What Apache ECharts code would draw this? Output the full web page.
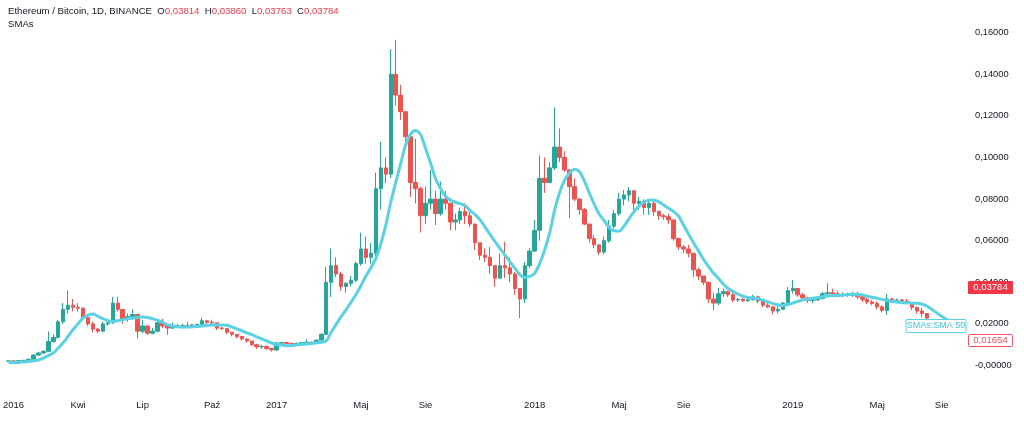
<!DOCTYPE html>
<html><head><meta charset="utf-8">
<script src="https://cdn.jsdelivr.net/npm/echarts@6/dist/echarts.min.js"></script>
<style>html,body{margin:0;padding:0;background:#fff;}#c{width:1024px;height:421px;}</style>
</head><body><div id="c"></div>
<script>
// ---- data (weekly aggregation of ETH/BTC) ----
const startDate = '2015-12-19';
const weekCount = 193;
const openV = [0.0021,0.0022,0.0021,0.0023,0.0025,0.0030,0.0050,0.0060,0.0068,0.0115,
0.0135,0.0210,0.0270,0.0290,0.0280,0.0275,0.0230,0.0200,0.0175,0.0165,
0.0200,0.0205,0.0300,0.0270,0.0225,0.0235,0.0245,0.0165,0.0190,0.0155,
0.0165,0.0205,0.0190,0.0180,0.0190,0.0188,0.0192,0.0190,0.0195,0.0198,
0.0215,0.0208,0.0205,0.0180,0.0178,0.0160,0.0150,0.0140,0.0128,0.0118,
0.0100,0.0090,0.0092,0.0082,0.0075,0.0108,0.0110,0.0106,0.0104,0.0106,
0.0110,0.0112,0.0108,0.0122,0.0150,0.0400,0.0480,0.0440,0.0380,0.0395,
0.0410,0.0490,0.0560,0.0520,0.0540,0.0850,0.0950,0.0920,0.1400,0.1300,
0.1220,0.1100,0.0880,0.0850,0.0720,0.0780,0.0800,0.0730,0.0800,0.0780,
0.0690,0.0700,0.0740,0.0720,0.0680,0.0590,0.0530,0.0520,0.0480,0.0420,
0.0480,0.0470,0.0440,0.0370,0.0320,0.0480,0.0550,0.0650,0.0900,0.0880,
0.0950,0.1050,0.1000,0.0940,0.0860,0.0800,0.0750,0.0680,0.0610,0.0580,
0.0545,0.0600,0.0670,0.0730,0.0800,0.0820,0.0840,0.0780,0.0790,0.0760,
0.0780,0.0740,0.0720,0.0715,0.0700,0.0610,0.0570,0.0560,0.0540,0.0460,
0.0430,0.0400,0.0320,0.0300,0.0345,0.0355,0.0340,0.0315,0.0318,0.0312,
0.0316,0.0330,0.0310,0.0290,0.0282,0.0262,0.0270,0.0300,0.0360,0.0370,
0.0340,0.0325,0.0312,0.0316,0.0322,0.0345,0.0350,0.0345,0.0340,0.0342,
0.0338,0.0345,0.0330,0.0318,0.0305,0.0298,0.0282,0.0265,0.0320,0.0312,
0.0315,0.0310,0.0300,0.0280,0.0262,0.0250];
const closeV = [0.0022,0.0021,0.0023,0.0025,0.0030,0.0050,0.0060,0.0068,0.0115,0.0135,
0.0210,0.0270,0.0290,0.0280,0.0275,0.0230,0.0200,0.0175,0.0165,0.0200,
0.0205,0.0300,0.0270,0.0225,0.0235,0.0245,0.0165,0.0190,0.0155,0.0165,
0.0205,0.0190,0.0180,0.0190,0.0188,0.0192,0.0190,0.0195,0.0198,0.0215,
0.0208,0.0205,0.0180,0.0178,0.0160,0.0150,0.0140,0.0128,0.0118,0.0100,
0.0090,0.0092,0.0082,0.0075,0.0108,0.0110,0.0106,0.0104,0.0106,0.0110,
0.0112,0.0108,0.0122,0.0150,0.0400,0.0480,0.0440,0.0380,0.0395,0.0410,
0.0490,0.0560,0.0520,0.0540,0.0850,0.0950,0.0920,0.1400,0.1300,0.1220,
0.1100,0.0880,0.0850,0.0720,0.0780,0.0800,0.0730,0.0800,0.0780,0.0690,
0.0700,0.0740,0.0720,0.0680,0.0590,0.0530,0.0520,0.0480,0.0420,0.0480,
0.0470,0.0440,0.0370,0.0320,0.0480,0.0550,0.0650,0.0900,0.0880,0.0950,
0.1050,0.1000,0.0940,0.0860,0.0800,0.0750,0.0680,0.0610,0.0580,0.0545,
0.0600,0.0670,0.0730,0.0800,0.0820,0.0840,0.0780,0.0790,0.0760,0.0780,
0.0740,0.0720,0.0715,0.0700,0.0610,0.0570,0.0560,0.0540,0.0460,0.0430,
0.0400,0.0320,0.0300,0.0345,0.0355,0.0340,0.0315,0.0318,0.0312,0.0316,
0.0330,0.0310,0.0290,0.0282,0.0262,0.0270,0.0300,0.0360,0.0370,0.0340,
0.0325,0.0312,0.0316,0.0322,0.0345,0.0350,0.0345,0.0340,0.0342,0.0338,
0.0345,0.0330,0.0318,0.0305,0.0298,0.0282,0.0265,0.0320,0.0312,0.0315,
0.0310,0.0300,0.0280,0.0262,0.0250,0.0228];
const lowV = [0.0020,0.0020,0.0020,0.0022,0.0024,0.0029,0.0048,0.0057,0.0066,0.0110,
0.0130,0.0200,0.0250,0.0260,0.0260,0.0220,0.0190,0.0160,0.0155,0.0160,
0.0190,0.0200,0.0260,0.0200,0.0210,0.0220,0.0130,0.0155,0.0147,0.0150,
0.0160,0.0180,0.0147,0.0175,0.0180,0.0180,0.0180,0.0180,0.0180,0.0190,
0.0200,0.0200,0.0170,0.0170,0.0150,0.0140,0.0130,0.0120,0.0110,0.0095,
0.0080,0.0080,0.0075,0.0066,0.0070,0.0103,0.0103,0.0100,0.0100,0.0103,
0.0105,0.0105,0.0106,0.0120,0.0148,0.0330,0.0425,0.0360,0.0350,0.0380,
0.0400,0.0480,0.0490,0.0490,0.0520,0.0750,0.0877,0.0900,0.1250,0.1180,
0.1050,0.0810,0.0780,0.0640,0.0680,0.0750,0.0675,0.0720,0.0750,0.0650,
0.0650,0.0680,0.0680,0.0666,0.0555,0.0507,0.0497,0.0440,0.0379,0.0420,
0.0420,0.0400,0.0340,0.0228,0.0300,0.0468,0.0545,0.0600,0.0830,0.0880,
0.0940,0.0978,0.0930,0.0708,0.0790,0.0723,0.0675,0.0590,0.0564,0.0530,
0.0535,0.0590,0.0660,0.0720,0.0770,0.0790,0.0748,0.0748,0.0724,0.0724,
0.0720,0.0700,0.0700,0.0680,0.0600,0.0555,0.0540,0.0520,0.0425,0.0410,
0.0387,0.0300,0.0267,0.0290,0.0330,0.0330,0.0305,0.0305,0.0305,0.0305,
0.0312,0.0300,0.0280,0.0276,0.0246,0.0250,0.0270,0.0290,0.0345,0.0330,
0.0315,0.0300,0.0300,0.0310,0.0318,0.0330,0.0330,0.0330,0.0328,0.0330,
0.0330,0.0320,0.0305,0.0295,0.0290,0.0270,0.0255,0.0243,0.0300,0.0300,
0.0300,0.0295,0.0267,0.0250,0.0233,0.0220];
const highV = [0.0023,0.0023,0.0024,0.0026,0.0032,0.0055,0.0066,0.0072,0.0163,0.0150,
0.0220,0.0300,0.0360,0.0320,0.0300,0.0280,0.0240,0.0210,0.0180,0.0210,
0.0210,0.0330,0.0330,0.0270,0.0250,0.0270,0.0250,0.0220,0.0190,0.0180,
0.0220,0.0224,0.0200,0.0206,0.0200,0.0200,0.0210,0.0200,0.0200,0.0230,
0.0220,0.0220,0.0205,0.0185,0.0180,0.0160,0.0150,0.0140,0.0128,0.0118,
0.0105,0.0099,0.0095,0.0085,0.0114,0.0114,0.0112,0.0110,0.0110,0.0113,
0.0126,0.0115,0.0125,0.0156,0.0475,0.0563,0.0520,0.0450,0.0400,0.0430,
0.0500,0.0639,0.0620,0.0590,0.0927,0.1076,0.1000,0.1520,0.1565,0.1350,
0.1200,0.1100,0.1090,0.0860,0.0860,0.0940,0.0840,0.0884,0.0840,0.0780,
0.0730,0.0760,0.0780,0.0740,0.0680,0.0590,0.0564,0.0570,0.0480,0.0540,
0.0595,0.0520,0.0450,0.0370,0.0497,0.0564,0.0700,0.1010,0.1000,0.0978,
0.1240,0.1140,0.1030,0.0945,0.0900,0.0805,0.0757,0.0680,0.0627,0.0580,
0.0620,0.0700,0.0748,0.0830,0.0844,0.0857,0.0840,0.0810,0.0800,0.0796,
0.0796,0.0745,0.0730,0.0730,0.0700,0.0615,0.0580,0.0580,0.0540,0.0470,
0.0430,0.0400,0.0350,0.0373,0.0370,0.0360,0.0350,0.0325,0.0325,0.0325,
0.0340,0.0335,0.0315,0.0300,0.0285,0.0285,0.0305,0.0377,0.0411,0.0370,
0.0350,0.0330,0.0325,0.0330,0.0353,0.0395,0.0370,0.0360,0.0352,0.0350,
0.0355,0.0355,0.0340,0.0325,0.0315,0.0307,0.0290,0.0344,0.0325,0.0322,
0.0320,0.0320,0.0300,0.0282,0.0276,0.0250];
const smaV = [0.0015,0.0015,0.0015,0.0017,0.0019,0.0023,0.0026,0.0035,0.0048,0.0060,
0.0084,0.0109,0.0141,0.0173,0.0201,0.0228,0.0242,0.0247,0.0236,0.0225,
0.0216,0.0211,0.0215,0.0220,0.0225,0.0228,0.0231,0.0233,0.0231,0.0225,
0.0218,0.0208,0.0195,0.0190,0.0186,0.0184,0.0185,0.0186,0.0187,0.0190,
0.0193,0.0195,0.0195,0.0195,0.0194,0.0185,0.0176,0.0167,0.0157,0.0148,
0.0138,0.0128,0.0118,0.0108,0.0101,0.0098,0.0095,0.0096,0.0099,0.0101,
0.0103,0.0106,0.0109,0.0112,0.0118,0.0160,0.0198,0.0235,0.0268,0.0305,
0.0341,0.0384,0.0430,0.0470,0.0515,0.0585,0.0675,0.0785,0.0880,0.0970,
0.1060,0.1112,0.1130,0.1110,0.1045,0.0975,0.0900,0.0852,0.0815,0.0795,
0.0785,0.0778,0.0768,0.0745,0.0725,0.0700,0.0666,0.0630,0.0596,0.0563,
0.0531,0.0499,0.0468,0.0437,0.0423,0.0428,0.0443,0.0490,0.0555,0.0635,
0.0745,0.0830,0.0890,0.0924,0.0944,0.0932,0.0888,0.0830,0.0775,0.0728,
0.0697,0.0663,0.0648,0.0646,0.0670,0.0705,0.0740,0.0766,0.0785,0.0795,
0.0796,0.0787,0.0771,0.0756,0.0740,0.0718,0.0675,0.0632,0.0590,0.0551,
0.0511,0.0476,0.0445,0.0420,0.0392,0.0370,0.0355,0.0343,0.0333,0.0327,
0.0324,0.0321,0.0314,0.0306,0.0298,0.0292,0.0288,0.0293,0.0300,0.0308,
0.0315,0.0319,0.0323,0.0327,0.0331,0.0334,0.0336,0.0336,0.0338,0.0341,
0.0343,0.0343,0.0339,0.0333,0.0328,0.0323,0.0318,0.0312,0.0308,0.0305,
0.0302,0.0301,0.0300,0.0299,0.0296,0.0286,0.0270,0.0253,0.0237,0.0222,
0.0208,0.0195];
const tickLabels = [['2016-01-01','2016'],['2016-04-01','Kwi'],['2016-07-01','Lip'],['2016-10-01','Paź'],
['2017-01-01','2017'],['2017-05-01','Maj'],['2017-08-01','Sie'],['2018-01-01','2018'],['2018-05-01','Maj'],
['2018-08-01','Sie'],['2019-01-01','2019'],['2019-05-01','Maj'],['2019-08-01','Sie']];
const headerName = 'Ethereum / Bitcoin, 1D, BINANCE';
const headerOHLC = [['O','0,03814'],['H','0,03860'],['L','0,03763'],['C','0,03784']];
const indicatorName = 'SMAs';
const smaLabel = 'SMAs:SMA 50';
const lastPrice = 0.03784;
const secondPriceText = '0,01654';

// ---- build ----
const DAY = 86400000;
const t0 = Date.parse(startDate + 'T00:00:00Z');
const categories = [];
for (let i = 0; i < weekCount; i++) categories.push(new Date(t0 + i * 7 * DAY).toISOString().slice(0, 10));
const labelMap = {};
tickLabels.forEach(([d, t]) => { labelMap[Math.floor((Date.parse(d + 'T00:00:00Z') - t0) / (7 * DAY))] = t; });
const candles = openV.map((o, i) => [o, closeV[i], lowV[i], highV[i]]);
const fmt = v => v === 0 ? '-0,00000' : v.toFixed(5).replace('.', ',');

const UP = '#26a69a', DOWN = '#ef5350', SMA = '#5ad2e4', TXT = '#131722';
const FONT = 'Liberation Sans, Arial, sans-serif';
const chart = echarts.init(document.getElementById('c'), null, {renderer: 'canvas'});
const headerText = '{n|' + headerName + '}' + headerOHLC.map(([k, v]) => '  {k|' + k + '}{v|' + v + '}').join('');
chart.setOption({
  animation: false,
  backgroundColor: '#ffffff',
  textStyle: {fontFamily: FONT},
  title: [
    {text: headerText, left: 8, top: 6, padding: 0,
     textStyle: {fontSize: 9.6, fontWeight: 'normal', fontFamily: FONT,
       rich: {n: {color: TXT, fontSize: 9.6, fontFamily: FONT}, k: {color: TXT, fontSize: 9.6, fontFamily: FONT},
              v: {color: '#f23645', fontSize: 9.6, fontFamily: FONT}}}},
    {text: indicatorName, left: 8, top: 19, padding: 0,
     textStyle: {fontSize: 9.6, fontWeight: 'normal', color: TXT, fontFamily: FONT}}
  ],
  grid: {left: 0, right: 60, top: 32.7, bottom: 55.5, containLabel: false},
  xAxis: {
    type: 'category', data: categories, boundaryGap: true,
    axisLine: {show: false}, axisTick: {show: false}, splitLine: {show: false},
    axisLabel: {interval: (idx) => labelMap[idx] !== undefined, formatter: (v, idx) => labelMap[idx] || '',
      margin: 35, color: TXT, fontSize: 9.5, fontFamily: FONT}
  },
  yAxis: {
    type: 'value', position: 'right', min: 0, max: 0.16, interval: 0.02, scale: false,
    axisLine: {show: false}, axisTick: {show: false}, splitLine: {show: false},
    axisLabel: {margin: 11, color: TXT, fontSize: 9.3, fontFamily: FONT, formatter: fmt}
  },
  series: [
    {type: 'candlestick', data: candles, barWidth: 4,
     itemStyle: {color: UP, color0: DOWN, borderColor: UP, borderColor0: DOWN, borderWidth: 1}},
    {type: 'line', data: smaV, symbol: 'none', smooth: 0.3, z: 3,
     lineStyle: {color: SMA, width: 3}}
  ]
});

// price-scale labels tied to values
const yOf = v => chart.convertToPixel({yAxisIndex: 0}, v);
const plotRight = 1024 - 60;
const yLast = yOf(lastPrice);
const ySma = yOf(smaV[smaV.length - 1]) + 1;
chart.setOption({graphic: [
  {type: 'rect', z: 100, shape: {x: plotRight + 4, y: Math.round(yLast) - 6, width: 45, height: 13, r: 1},
   style: {fill: '#f23645'}},
  {type: 'text', z: 101, x: plotRight + 26.5, y: Math.round(yLast) + 0.5,
   style: {text: fmt(lastPrice), fill: '#ffffff', font: '9.5px ' + FONT, align: 'center', verticalAlign: 'middle'}},
  {type: 'rect', z: 100, shape: {x: plotRight - 58, y: Math.round(ySma) - 6.5, width: 60, height: 13, r: 1},
   style: {fill: '#ffffff', stroke: SMA, lineWidth: 1}},
  {type: 'text', z: 101, x: plotRight - 28, y: Math.round(ySma),
   style: {text: smaLabel, fill: '#3cc6dc', font: '9px ' + FONT, align: 'center', verticalAlign: 'middle'}},
  {type: 'rect', z: 100, shape: {x: plotRight + 4.5, y: Math.round(ySma) + 8.5, width: 44, height: 12, r: 1},
   style: {fill: '#ffffff', stroke: '#f7525f', lineWidth: 1}},
  {type: 'text', z: 101, x: plotRight + 26.5, y: Math.round(ySma) + 14.5,
   style: {text: secondPriceText, fill: '#f7525f', font: '9.5px ' + FONT, align: 'center', verticalAlign: 'middle'}}
]});
</script></body></html>
